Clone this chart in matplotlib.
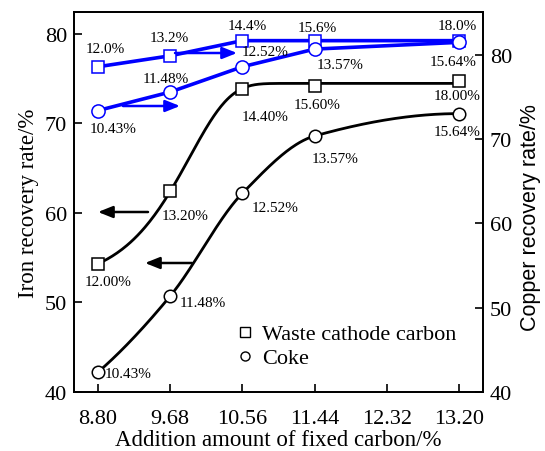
import numpy as np
import matplotlib
matplotlib.use("Agg")
import matplotlib.pyplot as plt
from matplotlib.lines import Line2D
from matplotlib.patches import FancyArrowPatch

# ---------------- data ----------------
carbon = [8.80, 9.68, 10.56, 11.44, 13.20]
xtick_labels = ["8.80", "9.68", "10.56", "11.44", "12.32", "13.20"]
xticks = [8.80, 9.68, 10.56, 11.44, 12.32, 13.20]

iron_cathode = [54.3, 62.4, 73.9, 74.2, 74.75]
iron_coke = [42.2, 50.7, 62.2, 68.6, 71.1]
copper_cathode = [78.6, 79.9, 81.7, 81.7, 81.7]
copper_coke = [73.4, 75.6, 78.6, 80.7, 81.5]

lab_iron_cathode = ["12.00%", "13.20%", "14.40%", "15.60%", "18.00%"]
lab_iron_coke = ["10.43%", "11.48%", "12.52%", "13.57%", "15.64%"]
lab_cu_cathode = ["12.0%", "13.2%", "14.4%", "15.6%", "18.0%"]
lab_cu_coke = ["10.43%", "11.48%", "12.52%", "13.57%", "15.64%"]

legend_labels = ["Waste cathode carbon", "Coke"]

# ---------------- style ----------------
serif = ["Liberation Serif", "DejaVu Serif"]
plt.rcParams["font.family"] = serif

W, H = 545, 452
fig = plt.figure(figsize=(W / 100, H / 100), dpi=100)
L, R, T, B = 74, 483, 13, 393
ax = fig.add_axes([L / W, 1 - B / H, (R - L) / W, (B - T) / H])
ax2 = ax.twinx()

BLUE = "#0000ff"


def sat_fit(x, y, n=300):
    """Least-squares fit of y = A + B*(1 - exp(-exp((x-c)/d)))."""
    x = np.asarray(x, float)
    y = np.asarray(y, float)
    cs = np.linspace(8.0, 12.5, 226)[:, None, None]
    ds = np.geomspace(0.1, 5.0, 200)[None, :, None]
    f = 1 - np.exp(-np.exp((x[None, None, :] - cs) / ds))
    fm = f.mean(-1, keepdims=True)
    ym = y.mean()
    var = ((f - fm) ** 2).sum(-1)
    cov = ((f - fm) * (y - ym)).sum(-1)
    Bc = cov / np.where(var > 1e-12, var, np.nan)
    Ac = ym - Bc * fm[..., 0]
    sse = ((y - (Ac[..., None] + Bc[..., None] * f)) ** 2).sum(-1)
    i, j = np.unravel_index(np.nanargmin(sse), sse.shape)
    c, d, A, Bv = cs[i, 0, 0], ds[0, j, 0], Ac[i, j], Bc[i, j]
    xs = np.linspace(x.min(), x.max(), n)
    return xs, A + Bv * (1 - np.exp(-np.exp((xs - c) / d)))


def pchip_curve(x, y, n=300):
    """Monotone piecewise cubic Hermite curve through the points."""
    x = np.asarray(x, float)
    y = np.asarray(y, float)
    h = np.diff(x)
    dl = np.diff(y) / h
    d = np.zeros_like(y)
    for k in range(1, len(x) - 1):
        if dl[k - 1] * dl[k] > 0:
            w1 = 2 * h[k] + h[k - 1]
            w2 = h[k] + 2 * h[k - 1]
            d[k] = (w1 + w2) / (w1 / dl[k - 1] + w2 / dl[k])

    def end(h0, h1, d0, d1):
        v = ((2 * h0 + h1) * d0 - h0 * d1) / (h0 + h1)
        if np.sign(v) != np.sign(d0):
            return 0.0
        if np.sign(d0) != np.sign(d1) and abs(v) > 3 * abs(d0):
            return 3 * d0
        return v

    d[0] = end(h[0], h[1], dl[0], dl[1])
    d[-1] = end(h[-1], h[-2], dl[-1], dl[-2])
    xs = np.linspace(x[0], x[-1], n)
    i = np.clip(np.searchsorted(x, xs) - 1, 0, len(x) - 2)
    t = (xs - x[i]) / h[i]
    h00 = 2 * t**3 - 3 * t**2 + 1
    h10 = t**3 - 2 * t**2 + t
    h01 = -2 * t**3 + 3 * t**2
    h11 = t**3 - t**2
    ys = h00 * y[i] + h10 * h[i] * d[i] + h01 * y[i + 1] + h11 * h[i] * d[i + 1]
    return xs, ys


# black smooth curves (iron, left axis)
for yv, mk, curve in [(iron_cathode, "s", sat_fit), (iron_coke, "o", pchip_curve)]:
    xs, ys = curve(carbon, yv)
    ax.plot(xs, ys, color="black", lw=2.0, zorder=2)
    ax.plot(carbon, yv, ls="none", marker=mk, ms=8.5 if mk == "s" else 9,
            mfc="white", mec="black", mew=1.1, zorder=3)

# blue lines (copper, right axis)
ax2.plot(carbon, copper_cathode, color=BLUE, lw=2.6, marker="s", ms=8,
         mfc="white", mec=BLUE, mew=1.1, zorder=3)
ax2.plot(carbon, copper_coke, color=BLUE, lw=2.6, marker="o", ms=9.5,
         mfc="white", mec=BLUE, mew=1.1, zorder=3)

# ---------------- annotations ----------------
FS_ANN = 11
off_cu_cathode = [(7, 18), (-1, 18), (5, 15), (3, 13), (-2, 15)]
off_cu_coke = [(15, -18), (-4, 14), (23, 15), (25, -15), (-6, -19)]
off_fe_cathode = [(10, -18), (15, -24), (23, -28), (2, -19), (-2, -15)]
off_fe_coke = [(30, -1), (33, -6), (33, -14), (20, -23), (-2, -18)]

for axis, yv, labs, offs in [(ax2, copper_cathode, lab_cu_cathode, off_cu_cathode),
                             (ax2, copper_coke, lab_cu_coke, off_cu_coke),
                             (ax, iron_cathode, lab_iron_cathode, off_fe_cathode),
                             (ax, iron_coke, lab_iron_coke, off_fe_coke)]:
    for xv, yy, t, o in zip(carbon, yv, labs, offs):
        axis.annotate(t, (xv, yy), xytext=o, textcoords="offset pixels",
                      ha="center", va="center", fontsize=FS_ANN, zorder=5)


def fig_arrow(x0, y0, x1, y1, color):
    fig.add_artist(FancyArrowPatch(
        (x0 / W, 1 - y0 / H), (x1 / W, 1 - y1 / H), transform=fig.transFigure,
        arrowstyle="-|>,head_length=0.55,head_width=0.22", mutation_scale=16,
        color=color, lw=1.8, shrinkA=0, shrinkB=0))


fig_arrow(148, 213, 98, 213, "black")
fig_arrow(192, 264, 145, 264, "black")
fig_arrow(175, 54, 237, 54, BLUE)
fig_arrow(123, 107, 180, 107, BLUE)

# ---------------- legend (manual, tight rows) ----------------
leg_markers = ["s", "o"]
leg_rows_y = [333, 357]
for mk, lab, yy in zip(leg_markers, legend_labels, leg_rows_y):
    fig.add_artist(Line2D([245 / W], [1 - yy / H], transform=fig.transFigure,
                          ls="none", marker=mk, ms=6.5, mfc="white",
                          mec="black", mew=1.0))
    fig.text(262 / W, 1 - (yy + 7) / H, lab, fontsize=16, ha="left",
             va="baseline")

# ---------------- axes ----------------
ax.set_xlim(8.51, 13.49)
ax.set_ylim(40, 82.45)
ax2.set_ylim(40, 85.1)
ax.set_xticks(xticks)
ax.set_xticklabels(xtick_labels)
ax.set_yticks([40, 50, 60, 70, 80])
ax2.set_yticks([40, 50, 60, 70, 80])
for a in (ax, ax2):
    a.tick_params(direction="in", length=6, width=1.2, labelsize=16)
    for s in a.spines.values():
        s.set_linewidth(1.3)
ax.tick_params(axis="x", pad=12)
ax.tick_params(axis="y", pad=5)
ax2.tick_params(axis="y", pad=5)

ax.set_xlabel("Addition amount of fixed carbon/%", fontsize=16.5, labelpad=1)
ax.set_ylabel("Iron recovery rate/%", fontsize=16.5, labelpad=4)
ax2.set_ylabel("Copper recovery rate/%", fontsize=15.5,
               family=["Liberation Sans", "DejaVu Sans"])
ax2.yaxis.set_label_coords((520 - L) / (R - L), 1 - (218 - T) / (B - T))

fig.savefig("out.png", dpi=100)
